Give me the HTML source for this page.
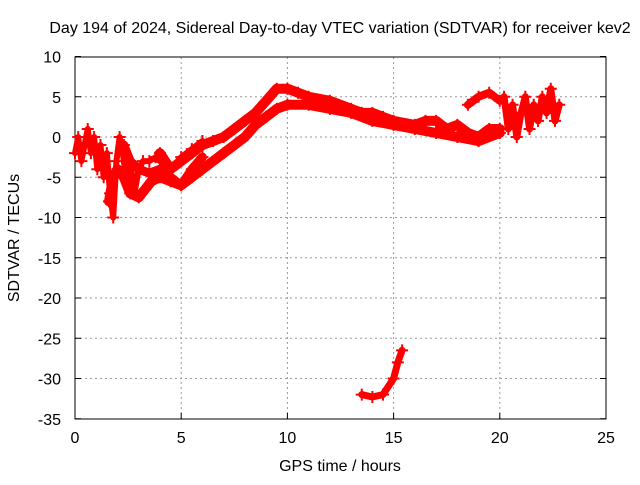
<!DOCTYPE html>
<html><head><meta charset="utf-8"><style>
body{margin:0;background:#fff}
svg text{font-family:"Liberation Sans",sans-serif;font-size:16px;fill:#000}
</style></head><body>
<svg id="chart" width="640" height="480">
<text x="340" y="33" text-anchor="middle">Day 194 of 2024, Sidereal Day-to-day VTEC variation (SDTVAR) for receiver kev2</text>
<g id="grid"></g>
<g id="axes"></g>
<g id="marks"></g>
<text x="340" y="471" text-anchor="middle">GPS time / hours</text>
<text transform="translate(19,238) rotate(-90)" text-anchor="middle">SDTVAR / TECUs</text>
</svg>
<script>
const xTicks=[0,5,10,15,20,25];
const yTicks=[10,5,0,-5,-10,-15,-20,-25,-30,-35];
const trackEarlyH=[0,0.15,0.3,0.45,0.6,0.75,0.9,1.05,1.2,1.35,1.5,1.65,1.8,1.95,2.1,2.25,2.4,2.6,2.8,3,3.2,3.5,3.8,4,4.5,5,5.5,6];
const trackEarlyV=[-2,0,-3,-1,1,-2,0,-4,-1,-5,-2,-7,-10,-3,0,-2,-5,-3,-7,-4,-3,-3,-2.5,-3,-4,-2.5,-1.5,-0.5];
const trackLowH=[1.6,1.8,2,2.3,2.6,3,3.3,3.6,4,4.5,5,5.5,6,7,8,8.5,9,9.5,10,11,12,13,14,15,16,17,18,19,20];
const trackLowV=[-8,-5,-4,-5,-7,-7.5,-6.5,-5.5,-5,-5.5,-6,-5,-4,-2,0,1.5,2.5,3.5,4,4,3.5,3,2,1.5,1,0.5,0,-0.5,0.5];
const trackMidH=[2.3,2.6,3,3.5,4,4.5,5,5.5,6];
const trackMidV=[-1,-3,-4,-4.5,-4,-5,-6,-4,-2.5];
const trackHighH=[4,4.5,5,5.5,6,6.5,7,7.5,8,8.5,9,9.5,10,10.5,11,12,13,13.5,14,14.5,15,16,16.5,17,17.5,18,18.5,19,19.5,20];
const trackHighV=[-2,-4,-3,-2,-1,-0.5,0,1,2,3,4.5,6,6,5.5,5,4.5,3.5,3,3,2.5,2,1.5,2,2,1,1.5,0.5,0,1,1];
const trackArcH=[18.5,19,19.5,20];
const trackArcV=[4,5,5.5,4.5];
const trackRightH=[20.2,20.4,20.6,20.8,21,21.2,21.4,21.6,21.8,22,22.2,22.4,22.6,22.8];
const trackRightV=[5,1,4,0,3,5,1,4,2,5,3,6,2,4];
const trackBottomH=[13.5,14,14.5,15,15.2,15.4];
const trackBottomV=[-32,-32.3,-32,-30,-28,-26.5];
const X=h=>75+h*21.24, Y=v=>137-v*8.05;
const ns="http://www.w3.org/2000/svg";
function mk(t,a,p){const e=document.createElementNS(ns,t);for(const k in a)e.setAttribute(k,a[k]);p.appendChild(e);return e;}
const grid=document.getElementById('grid'),axes=document.getElementById('axes'),marks=document.getElementById('marks');
xTicks.forEach(t=>{
 if(t>0&&t<25){const l=mk('line',{x1:X(t),x2:X(t),y1:57,y2:419,stroke:'#999','stroke-dasharray':'2,3'},grid);
 
 }
 const tx=mk('text',{x:X(t),y:443,'text-anchor':'middle'},axes);tx.textContent=t;
 
 
 mk('line',{x1:X(t),x2:X(t),y1:419,y2:413,stroke:'#000'},axes);
});
yTicks.forEach(t=>{
 if(t<10&&t>-35){const l=mk('line',{x1:75,x2:606,y1:Y(t),y2:Y(t),stroke:'#999','stroke-dasharray':'2,3'},grid);
 
 }
 const tx=mk('text',{x:61,y:Y(t)+6,'text-anchor':'end'},axes);tx.textContent=t;
 
 
 mk('line',{x1:75,x2:81,y1:Y(t),y2:Y(t),stroke:'#000'},axes);
 mk('line',{x1:606,x2:600,y1:Y(t),y2:Y(t),stroke:'#000'},axes);
});
mk('rect',{x:75,y:57,width:531,height:362,fill:'none',stroke:'#000'},axes);
function track(H,V,name,w){
 const g=mk('g',{},marks);
 
 
 mk('polyline',{points:H.map((h,i)=>X(h)+','+Y(V[i])).join(' '),fill:'none',stroke:'#f00','stroke-width':w,'stroke-linejoin':'round','stroke-linecap':'round'},g);
 H.forEach((h,i)=>{const x=X(h),y=Y(V[i]);
  mk('path',{d:`M${x-6},${y}H${x+6}M${x},${y-6}V${y+6}`,stroke:'#f00','stroke-width':2},g);});
}
track(trackEarlyH,trackEarlyV,'series-early',6);
track(trackLowH,trackLowV,'series-low-arc',10);
track(trackMidH,trackMidV,'series-mid-arc',9);
track(trackHighH,trackHighV,'series-high-arc',10);
track(trackArcH,trackArcV,'series-late-arc',8);
track(trackRightH,trackRightV,'series-right-scatter',7);
track(trackBottomH,trackBottomV,'series-bottom-arc',7);
</script>
</body></html>
